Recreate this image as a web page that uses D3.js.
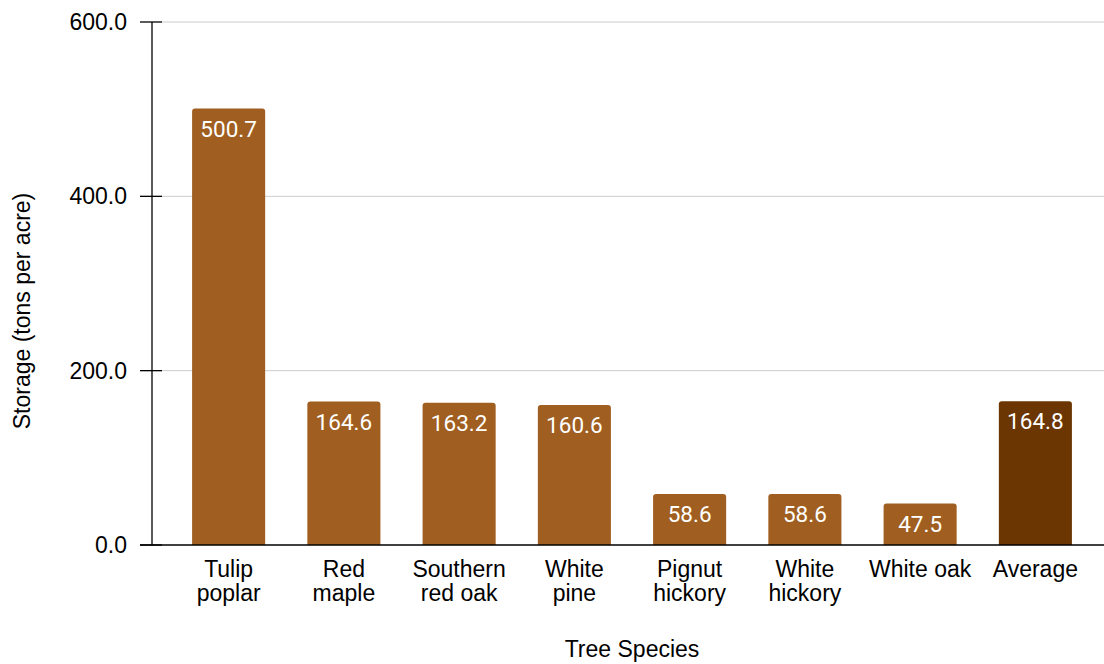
<!DOCTYPE html>
<html>
<head>
<meta charset="utf-8">
<script src="https://cdn.jsdelivr.net/npm/d3@7"></script>
<style>
  body { margin: 0; background: #fff; }
  svg { display: block; font-family: "Liberation Sans", Arial, sans-serif; }
</style>
</head>
<body>
<svg id="chart" width="1104" height="664"></svg>
<script>
// Carbon storage by tree species
const categories = [
  ["Tulip", "poplar"],
  ["Red", "maple"],
  ["Southern", "red oak"],
  ["White", "pine"],
  ["Pignut", "hickory"],
  ["White", "hickory"],
  ["White oak"],
  ["Average"]
];
const values = [500.7, 164.6, 163.2, 160.6, 58.6, 58.6, 47.5, 164.8];
const yTicks = [0, 200, 400, 600];
const barColors = ["#a05f21", "#a05f21", "#a05f21", "#a05f21", "#a05f21", "#a05f21", "#a05f21", "#6b3602"];

const svg = d3.select("#chart");
const plotLeft = 152, plotRight = 1104, plotTop = 22, plotBottom = 545;

const keys = categories.map(c => c.join(" "));
const x = d3.scaleBand().domain(keys).range([171, 1093]).paddingInner(0.366).paddingOuter(0.183);
const y = d3.scaleLinear().domain([0, 600]).range([plotBottom, plotTop]);

// gridlines
svg.append("g").selectAll("line").data(yTicks.filter(t => t > 0)).join("line")
  .attr("x1", plotLeft + 10).attr("x2", plotRight)
  .attr("y1", d => y(d)).attr("y2", d => y(d))
  .attr("stroke", "#cccccc").attr("stroke-width", 1);

// bars with rounded top corners
const r = 3;
svg.append("g").selectAll("path").data(values).join("path")
  .attr("d", (d, i) => {
    const x0 = x(keys[i]), w = x.bandwidth(), y0 = y(d), y1 = y(0);
    return `M${x0},${y1}V${y0 + r}Q${x0},${y0} ${x0 + r},${y0}H${x0 + w - r}Q${x0 + w},${y0} ${x0 + w},${y0 + r}V${y1}Z`;
  })
  .attr("fill", (d, i) => barColors[i]);

// value labels
svg.append("g").selectAll("text").data(values).join("text")
  .attr("x", (d, i) => x(keys[i]) + x.bandwidth() / 2)
  .attr("y", d => y(d) + 28)
  .attr("text-anchor", "middle")
  .attr("fill", "#ffffff")
  .style("font-family", "Roboto, sans-serif")
  .style("font-weight", 400)
  .style("font-size", "22.5px")
  .text(d => d.toFixed(1));

// y axis
const yAxis = d3.axisLeft(y).tickValues(yTicks).tickFormat(d3.format(".1f")).tickSize(0).tickPadding(25);
const gy = svg.append("g").attr("transform", `translate(${plotLeft},0)`).call(yAxis);
gy.select(".domain").remove();
gy.selectAll("text").style("font-size", "23px").style("font-family", "'Liberation Sans', Arial, sans-serif").attr("fill", "#000");
svg.append("line").attr("x1", plotLeft).attr("x2", plotLeft).attr("y1", plotTop).attr("y2", plotBottom).attr("stroke", "#000").attr("stroke-width", 1.3);
svg.append("g").selectAll("line").data(yTicks).join("line")
  .attr("x1", plotLeft - 12).attr("x2", plotLeft + 10)
  .attr("y1", d => y(d)).attr("y2", d => y(d))
  .attr("stroke", "#000").attr("stroke-width", 1.3);

// baseline
svg.append("line").attr("x1", plotLeft - 12).attr("x2", plotRight).attr("y1", plotBottom).attr("y2", plotBottom)
  .attr("stroke", "#000").attr("stroke-width", 1.3);

// category labels
const xl = svg.append("g").selectAll("text").data(categories).join("text")
  .attr("x", (d, i) => x(keys[i]) + x.bandwidth() / 2)
  .attr("y", 577)
  .attr("text-anchor", "middle")
  .attr("fill", "#000")
  .style("font-size", "23px");
xl.selectAll("tspan").data(d => d).join("tspan")
  .attr("x", function () { return this.parentNode.getAttribute("x"); })
  .attr("dy", (d, i) => i === 0 ? 0 : 24)
  .text(d => d);

// axis titles
svg.append("text").attr("x", 632).attr("y", 657).attr("text-anchor", "middle")
  .style("font-size", "23px").attr("fill", "#000").text("Tree Species");
svg.append("text").attr("transform", "translate(30,311) rotate(-90)").attr("text-anchor", "middle")
  .style("font-size", "23px").attr("fill", "#000").text("Storage (tons per acre)");
</script>
</body>
</html>
